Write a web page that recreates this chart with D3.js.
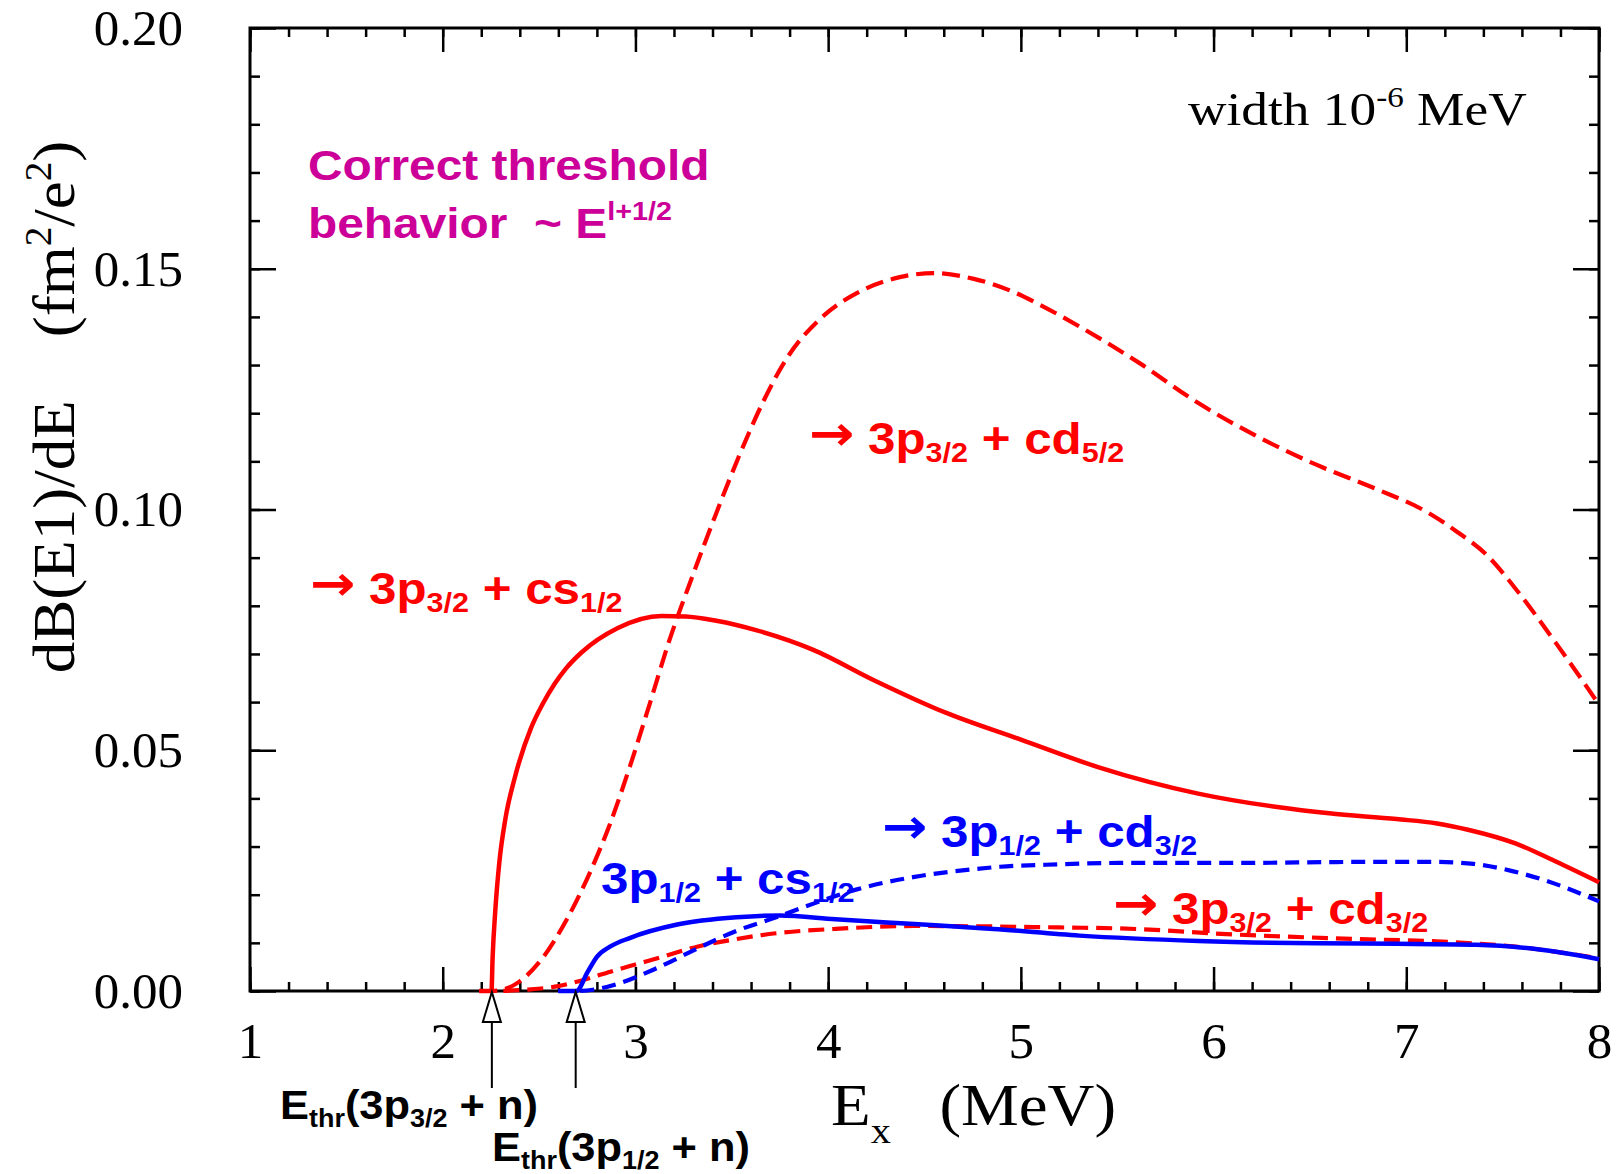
<!DOCTYPE html>
<html>
<head>
<meta charset="utf-8">
<script src="https://cdn.jsdelivr.net/npm/d3@7"></script>
<style>
  body { margin: 0; background: #fff; }
  text { white-space: pre; }
</style>
</head>
<body>
<div id="chart"></div>
<script>
// axis ticks
const xTicks = [1, 2, 3, 4, 5, 6, 7, 8];
const yTicks = [0, 0.05, 0.1, 0.15, 0.2];
const yTickLabels = ['0.00', '0.05', '0.10', '0.15', '0.20'];

// E_x (MeV), dB(E1)/dE
const redCs12 = [
  [2.19, 0], [2.253, 0], [2.259, 0.007], [2.273, 0.0168], [2.294, 0.0268],
  [2.325, 0.0357], [2.376, 0.0446], [2.458, 0.0546], [2.52, 0.0597],
  [2.581, 0.0638], [2.64, 0.0670], [2.72, 0.0703], [2.909, 0.0754],
  [3.135, 0.0779], [3.26, 0.0778], [3.42, 0.0769], [3.63, 0.0749],
  [3.92, 0.0709], [4.24, 0.0645], [4.61, 0.0578], [5.0, 0.0522],
  [5.4, 0.0465], [5.92, 0.041], [6.33, 0.0382], [6.6, 0.0369],
  [6.95, 0.0357], [7.16, 0.0348], [7.32, 0.0335], [7.57, 0.0306],
  [7.77, 0.0270], [8.0, 0.0226],
];

const redCd52 = [
  [2.19, 0], [2.253, 0], [2.33, 0.0005], [2.396, 0.0019], [2.519, 0.0069],
  [2.643, 0.0148], [2.766, 0.0248], [2.868, 0.0347], [2.971, 0.0466],
  [3.073, 0.0595], [3.176, 0.0728], [3.299, 0.0865], [3.422, 0.0995],
  [3.545, 0.1118], [3.668, 0.1228], [3.792, 0.1318], [3.956, 0.1395],
  [4.161, 0.1452], [4.366, 0.1482], [4.55, 0.1491], [4.756, 0.1479],
  [4.961, 0.1452], [5.1, 0.1425], [5.304, 0.1380], [5.612, 0.1305],
  [5.921, 0.1221], [6.23, 0.1151], [6.539, 0.1092], [6.848, 0.1042],
  [7.115, 0.0993], [7.259, 0.0955], [7.424, 0.0903], [7.568, 0.0835],
  [7.774, 0.0724], [8.0, 0.0595],
];

const redCd32 = [
  [2.19, 0], [2.253, 0], [2.44, 0.0003], [2.6, 0.001], [2.73, 0.0023],
  [2.87, 0.004], [3.0, 0.0055], [3.114, 0.0068], [3.32, 0.0092],
  [3.525, 0.0108], [3.73, 0.012], [4.038, 0.0129], [4.448, 0.0135],
  [4.858, 0.0134], [5.2, 0.0132], [5.51, 0.013], [6.127, 0.0117],
  [6.745, 0.0108], [7.156, 0.0103], [7.568, 0.0092], [8.0, 0.0068],
];

const blueCs12 = [
  [2.6, 0], [2.694, 0], [2.75, 0.0038], [2.8, 0.0071], [2.868, 0.0092],
  [2.97, 0.011], [3.217, 0.0138], [3.525, 0.0153], [3.75, 0.0157],
  [4.038, 0.0149], [4.448, 0.0139], [4.858, 0.0129], [5.304, 0.0115],
  [5.921, 0.0104], [6.539, 0.0099], [6.95, 0.0098], [7.362, 0.0096],
  [7.671, 0.0087], [8.0, 0.0066],
];

const blueCd32 = [
  [2.6, 0], [2.694, 0], [2.8, 0.0004], [2.909, 0.0015], [3.114, 0.0048],
  [3.32, 0.0088], [3.525, 0.0125], [3.73, 0.0153], [3.935, 0.0183],
  [4.14, 0.021], [4.448, 0.0237], [4.756, 0.0253], [4.892, 0.0258],
  [5.2, 0.0263], [5.51, 0.0266], [6.127, 0.0266], [6.745, 0.0268],
  [7.156, 0.0268], [7.35, 0.0264], [7.55, 0.0249], [7.77, 0.0223],
  [8.0, 0.0186],
];

// threshold energies marked by arrows
const thresholds = [2.255, 2.69];

const RED = '#ff0000';
const BLUE = '#0000ff';
const MAGENTA = '#cc0099';

const size = { width: 1622, height: 1174 };
const plot = { left: 250, right: 1599, top: 28, bottom: 991 };

const svg = d3.select('#chart')
  .append('svg')
  .attr('width', size.width)
  .attr('height', size.height);

const x = d3.scaleLinear().domain([1, 8]).range([plot.left, plot.right]);
const y = d3.scaleLinear().domain([0, 0.2]).range([plot.bottom, plot.top]);

const serif = '"Liberation Serif", "Times New Roman", serif';
const sans = '"Liberation Sans", Arial, sans-serif';

// text with sub/superscripts: '_' prefix = sub, '^' = sup, '>' = arrow glyph
const richText = (g, px, py, parts, o) => {
  const t = g.append('text')
    .attr('transform', `translate(${px},${py})` + (o.rot ? ` rotate(${o.rot})` : '') + ` scale(${o.sx || 1},1)`)
    .attr('font-family', o.family)
    .attr('font-weight', o.weight || 'normal')
    .attr('font-size', o.size)
    .attr('fill', o.fill || '#000')
    .attr('text-anchor', o.anchor || 'start');
  let shift = 0;
  parts.forEach((p) => {
    let kind = 'n';
    let s = p;
    if ('_^>'.includes(p[0])) { kind = p[0]; s = p.slice(1); }
    let target = 0;
    if (kind === '_') target = (o.sub || 0.18) * o.size;
    if (kind === '^') target = -(o.sup || 0.4) * o.size;
    if (kind === '>') target = -0.1 * o.size;
    const ts = t.append('tspan').attr('dy', target - shift).text(s);
    if (kind === '_' || kind === '^') ts.attr('font-size', o.size * (o.small || 0.62));
    if (kind === '>') {
      ts.attr('font-family', '"DejaVu Sans", sans-serif')
        .attr('font-weight', 'bold')
        .attr('font-size', o.size * 1.1);
    }
    shift = target;
  });
  return t;
};

// ticks (inward, on all four sides)
const minorX = d3.range(1, 8.001, 0.2);
const minorY = d3.range(0, 0.2001, 0.01);

const tickStyle = (g) => {
  g.select('.domain').remove();
  g.selectAll('.tick line').attr('stroke', '#000').attr('stroke-width', 2.5);
};

svg.append('g')
  .attr('transform', `translate(0,${plot.bottom})`)
  .call(d3.axisBottom(x).tickValues(minorX).tickSize(-9).tickFormat(''))
  .call(tickStyle);

svg.append('g')
  .attr('transform', `translate(0,${plot.bottom})`)
  .call(d3.axisBottom(x).tickValues(xTicks).tickSize(-24).tickPadding(31).tickFormat(d3.format('d')))
  .call(tickStyle)
  .call((g) => g.selectAll('text')
    .attr('font-family', serif).attr('font-size', 51).attr('fill', '#000'));

svg.append('g')
  .attr('transform', `translate(0,${plot.top})`)
  .call(d3.axisTop(x).tickValues(minorX).tickSize(-9).tickFormat(''))
  .call(tickStyle);

svg.append('g')
  .attr('transform', `translate(0,${plot.top})`)
  .call(d3.axisTop(x).tickValues(xTicks).tickSize(-24).tickFormat(''))
  .call(tickStyle);

svg.append('g')
  .attr('transform', `translate(${plot.left},0)`)
  .call(d3.axisLeft(y).tickValues(minorY).tickSize(-10).tickFormat(''))
  .call(tickStyle);

svg.append('g')
  .attr('transform', `translate(${plot.left},0)`)
  .call(d3.axisLeft(y).tickValues(yTicks).tickSize(-26).tickPadding(67)
    .tickFormat((d, i) => yTickLabels[i]))
  .call(tickStyle)
  .call((g) => g.selectAll('text')
    .attr('font-family', serif).attr('font-size', 51).attr('fill', '#000'));

svg.append('g')
  .attr('transform', `translate(${plot.right},0)`)
  .call(d3.axisRight(y).tickValues(minorY).tickSize(-10).tickFormat(''))
  .call(tickStyle);

svg.append('g')
  .attr('transform', `translate(${plot.right},0)`)
  .call(d3.axisRight(y).tickValues(yTicks).tickSize(-26).tickFormat(''))
  .call(tickStyle);

// frame
svg.append('rect')
  .attr('x', plot.left)
  .attr('y', plot.top)
  .attr('width', plot.right - plot.left)
  .attr('height', plot.bottom - plot.top)
  .attr('fill', 'none')
  .attr('stroke', '#000')
  .attr('stroke-width', 3);

// curves
const line = d3.line()
  .x((d) => x(d[0]))
  .y((d) => y(d[1]))
  .curve(d3.curveMonotoneX);

const series = [
  { data: redCd32, color: RED, dash: '16,8', w: 4.2 },
  { data: blueCd32, color: BLUE, dash: '14,8', w: 4.2 },
  { data: redCd52, color: RED, dash: '18,8', w: 4.2 },
  { data: redCs12, color: RED, dash: null, w: 4.5 },
  { data: blueCs12, color: BLUE, dash: null, w: 4.5 },
];

svg.append('g')
  .selectAll('path')
  .data(series)
  .enter()
  .append('path')
  .attr('d', (d) => line(d.data))
  .attr('fill', 'none')
  .attr('stroke', (d) => d.color)
  .attr('stroke-width', (d) => d.w)
  .attr('stroke-dasharray', (d) => d.dash)
  .attr('stroke-linejoin', 'round');

// threshold arrows below the axis
const arrows = svg.append('g')
  .selectAll('g')
  .data(thresholds)
  .enter()
  .append('g')
  .attr('transform', (d) => `translate(${x(d)},${plot.bottom})`);

arrows.append('line')
  .attr('y1', 31).attr('y2', 97)
  .attr('stroke', '#000').attr('stroke-width', 2);

arrows.append('path')
  .attr('d', 'M0,1 L-9,31 L9,31 Z')
  .attr('fill', '#fff')
  .attr('stroke', '#000')
  .attr('stroke-width', 2);

// axis titles
richText(svg, 831, 1125, ['E', '_x', '   (MeV)'],
  { family: serif, size: 59, sx: 1.1, sub: 0.3, small: 0.62 });

richText(svg, 74, 407, ['dB(E1)/dE', '    (fm', '^2', '/e', '^2', ')'],
  { family: serif, size: 60, sx: 1.05, rot: -90, anchor: 'middle', sup: 0.38, small: 0.62 });

// annotations
richText(svg, 1188, 125, ['width 10', '^-6', ' MeV'],
  { family: serif, size: 46, sx: 1.16, sup: 0.4, small: 0.62 });

richText(svg, 308, 180, ['Correct threshold'],
  { family: sans, weight: 'bold', size: 42, sx: 1.14, fill: MAGENTA });
richText(svg, 308, 238, ['behavior  ~ E', '^l+1/2'],
  { family: sans, weight: 'bold', size: 42, sx: 1.14, fill: MAGENTA, sup: 0.42, small: 0.6 });

const lab = { family: sans, weight: 'bold', size: 44, sx: 1.12, sub: 0.18, small: 0.62 };

richText(svg, 809, 454, ['>→', ' 3p', '_3/2', ' + cd', '_5/2'], { ...lab, fill: RED });
richText(svg, 310, 604, ['>→', ' 3p', '_3/2', ' + cs', '_1/2'], { ...lab, fill: RED });
richText(svg, 882, 847, ['>→', ' 3p', '_1/2', ' + cd', '_3/2'], { ...lab, fill: BLUE });
richText(svg, 601, 894, ['3p', '_1/2', ' + cs', '_1/2'], { ...lab, fill: BLUE });
richText(svg, 1113, 924, ['>→', ' 3p', '_3/2', ' + cd', '_3/2'], { ...lab, fill: RED });

const thr = { family: sans, weight: 'bold', size: 41, sx: 1.06, sub: 0.2, small: 0.62 };
richText(svg, 280, 1119, ['E', '_thr', '(3p', '_3/2', ' + n)'], thr);
richText(svg, 492, 1161, ['E', '_thr', '(3p', '_1/2', ' + n)'], thr);
</script>
</body>
</html>
